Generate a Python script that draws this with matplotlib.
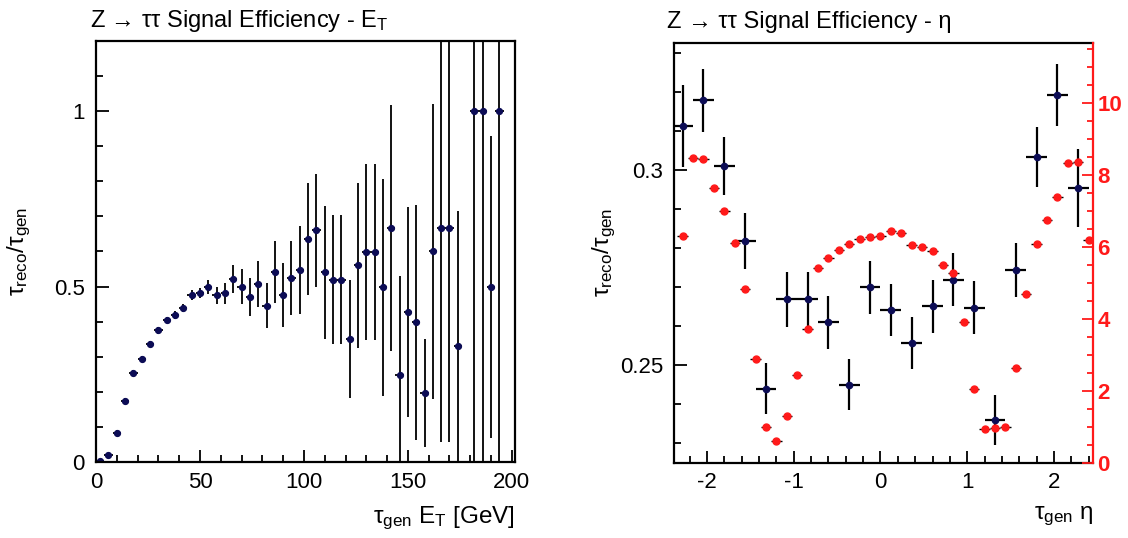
import matplotlib
matplotlib.use("Agg")
import matplotlib.pyplot as plt
from matplotlib.ticker import MultipleLocator, FormatStrFormatter

plt.rcParams['font.family'] = ['Liberation Sans', 'DejaVu Sans']
plt.rcParams['mathtext.fontset'] = 'custom'
plt.rcParams['mathtext.rm'] = 'Liberation Sans'
plt.rcParams['mathtext.it'] = 'Liberation Sans:italic'
plt.rcParams['mathtext.bf'] = 'Liberation Sans:bold'
plt.rcParams['axes.unicode_minus'] = False

# ==== E_T efficiency (4 GeV bins) ====
et_x = [2, 6, 10, 14, 18, 22, 26, 30, 34, 38, 42, 46, 50, 54, 58, 62, 66, 70,
        74, 78, 82, 86, 90, 94, 98, 102, 106, 110, 114, 118, 122, 126, 130,
        134, 138, 142, 146, 150, 154, 158, 162, 166, 170, 174, 182, 186, 190, 194]
et_eff = [0.002, 0.019, 0.084, 0.175, 0.253, 0.295, 0.337, 0.375, 0.405, 0.419,
          0.439, 0.476, 0.482, 0.500, 0.475, 0.481, 0.522, 0.500, 0.470, 0.508,
          0.446, 0.542, 0.476, 0.525, 0.547, 0.635, 0.660, 0.541, 0.520, 0.520,
          0.351, 0.561, 0.599, 0.599, 0.498, 0.667, 0.249, 0.427, 0.398, 0.197,
          0.600, 0.667, 0.667, 0.330, 1.0, 1.0, 0.498, 1.0]
et_err = [0.003, 0.004, 0.006, 0.007, 0.008, 0.008, 0.008, 0.009, 0.009, 0.010,
          0.011, 0.013, 0.015, 0.020, 0.025, 0.030, 0.040, 0.050, 0.055, 0.065,
          0.065, 0.088, 0.090, 0.105, 0.125, 0.160, 0.160, 0.190, 0.185, 0.185,
          0.168, 0.235, 0.250, 0.250, 0.310, 0.350, 0.280, 0.300, 0.335, 0.155,
          0.420, 0.610, 0.610, 0.385, 1.0, 1.0, 0.430, 1.0]

# ==== eta efficiency (0.24 bins) ====
eta_x = [-2.28, -2.04, -1.80, -1.56, -1.32, -1.08, -0.84, -0.60, -0.36, -0.12,
         0.12, 0.36, 0.60, 0.84, 1.08, 1.32, 1.56, 1.80, 2.04, 2.28]
eta_eff = [0.3114, 0.3179, 0.3010, 0.2818, 0.2439, 0.2668, 0.2668, 0.2610,
           0.2449, 0.2699, 0.2641, 0.2556, 0.2650, 0.2718, 0.2647, 0.2359,
           0.2744, 0.3034, 0.3192, 0.2953]
eta_err = [0.0105, 0.0080, 0.0075, 0.0072, 0.0065, 0.0070, 0.0070, 0.0068,
           0.0066, 0.0068, 0.0067, 0.0066, 0.0067, 0.0068, 0.0068, 0.0064,
           0.0070, 0.0077, 0.0080, 0.0100]

# ==== eta distribution (red, right axis) ====
dist_x = [-2.28, -2.16, -2.04, -1.92, -1.80, -1.68, -1.56, -1.44, -1.32, -1.20,
          -1.08, -0.96, -0.84, -0.72, -0.60, -0.48, -0.36, -0.24, -0.12, 0.00,
          0.12, 0.24, 0.36, 0.48, 0.60, 0.72, 0.84, 0.96, 1.08, 1.20,
          1.32, 1.44, 1.56, 1.68, 1.80, 1.92, 2.04, 2.16, 2.28, 2.40]
dist_y = [6.31, 8.48, 8.43, 7.62, 6.99, 6.11, 4.84, 2.87, 0.98, 0.61,
          1.29, 2.43, 3.72, 5.40, 5.70, 5.91, 6.07, 6.21, 6.28, 6.31,
          6.45, 6.39, 6.06, 6.00, 5.87, 5.49, 5.26, 3.90, 2.06, 0.93,
          0.96, 0.98, 2.62, 4.69, 6.08, 6.75, 7.39, 8.32, 8.36, 6.20]

NAVY = '#0c0c55'
RED = '#ff1a1a'
FS = 16      # tick labels
FS_LAB = 17.5  # axis titles
FS_TIT = 17    # pad titles


def style_axis(ax):
    for s in ax.spines.values():
        s.set_linewidth(1.6)
    ax.tick_params(which='both', direction='in', top=False, right=False,
                   labelsize=FS, width=1.3)
    ax.tick_params(which='major', length=9)
    ax.tick_params(which='minor', length=5)
    ax.tick_params(axis='y', pad=8)
    ax.tick_params(axis='x', pad=7)


fig = plt.figure(figsize=(11.28, 5.38), dpi=100)

# ==== left panel ====
ax1 = fig.add_axes([96 / 1128, 1 - 462 / 538, 419 / 1128, 421 / 538])
ax1.errorbar(et_x, et_eff, yerr=et_err, xerr=2, fmt='o', ms=4.2,
             color=NAVY, ecolor='black', elinewidth=1.3, capsize=0)
ax1.set_xlim(0, 201.5)
ax1.set_ylim(0, 1.2)
ax1.xaxis.set_major_locator(MultipleLocator(50))
ax1.xaxis.set_minor_locator(MultipleLocator(10))
ax1.yaxis.set_major_locator(MultipleLocator(0.5))
ax1.yaxis.set_minor_locator(MultipleLocator(0.1))
ax1.yaxis.set_major_formatter(FormatStrFormatter('%g'))
style_axis(ax1)
ax1.set_xlabel(r'τ$_{\mathregular{gen}}$ E$_{\mathregular{T}}$ [GeV]', fontsize=FS_LAB, ha='right')
ax1.xaxis.set_label_coords(1.0, -0.1)
ax1.set_ylabel(r'τ$_{\mathregular{reco}}$/τ$_{\mathregular{gen}}$', fontsize=FS_LAB)
ax1.yaxis.set_label_coords(-0.15, 0.5)
fig.text(90 / 1128, 1 - 27 / 538, r'Z → ττ Signal Efficiency - E$_{\mathregular{T}}$',
         fontsize=FS_TIT, va='baseline', ha='left')

# ==== right panel ====
ax2 = fig.add_axes([674 / 1128, 1 - 462.7 / 538, 419 / 1128, 420 / 538])
ax2.errorbar(eta_x, eta_eff, yerr=eta_err, xerr=0.12, fmt='o', ms=4.5,
             color=NAVY, ecolor='black', elinewidth=1.6, capsize=0)
ax2.set_xlim(-2.38, 2.45)
ax2.set_ylim(0.2249, 0.3327)
ax2.xaxis.set_major_locator(MultipleLocator(1))
ax2.xaxis.set_minor_locator(MultipleLocator(0.2))
ax2.yaxis.set_major_locator(MultipleLocator(0.05))
ax2.yaxis.set_minor_locator(MultipleLocator(0.01))
ax2.yaxis.set_major_formatter(FormatStrFormatter('%g'))
style_axis(ax2)
ax2.spines['right'].set_visible(False)
ax2.set_xlabel(r'τ$_{\mathregular{gen}}$ η', fontsize=FS_LAB, ha='right')
ax2.xaxis.set_label_coords(1.0, -0.1)
ax2.set_ylabel(r'τ$_{\mathregular{reco}}$/τ$_{\mathregular{gen}}$', fontsize=FS_LAB)
ax2.yaxis.set_label_coords(-0.134, 0.5)
fig.text(667 / 1128, 1 - 28 / 538, 'Z → ττ Signal Efficiency - η',
         fontsize=FS_TIT, va='baseline', ha='left')

ax3 = ax2.twinx()
ax3.errorbar(dist_x, dist_y, xerr=0.06, fmt='o', ms=5, color=RED,
             ecolor='black', elinewidth=1.0, capsize=0)
ax3.set_ylim(0, 11.67)
ax3.yaxis.set_major_locator(MultipleLocator(2))
ax3.yaxis.set_minor_locator(MultipleLocator(0.5))
for s in ['left', 'top', 'bottom']:
    ax3.spines[s].set_visible(False)
ax3.spines['right'].set_color(RED)
ax3.spines['right'].set_linewidth(1.6)
ax3.tick_params(which='both', direction='in', colors=RED, labelsize=FS,
                width=1.3, pad=3)
ax3.tick_params(which='major', length=8)
ax3.tick_params(which='minor', length=4.5)
for lab in ax3.get_yticklabels():
    lab.set_fontweight('bold')

fig.savefig('out.png', dpi=100)
